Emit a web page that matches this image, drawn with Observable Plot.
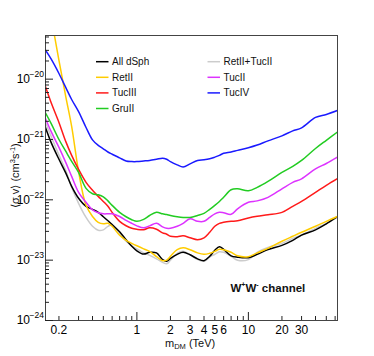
<!DOCTYPE html>
<html><head><meta charset="utf-8">
<script src="https://cdn.jsdelivr.net/npm/d3@7"></script>
<script src="https://cdn.jsdelivr.net/npm/@observablehq/plot@0.6"></script>
<style>body{margin:0;background:#fff}#chart{width:374px;height:356px}</style>
</head><body><div id="chart"></div>
<script>
// DM mass grid (TeV)
const mass = [0.15,0.17,0.2,0.23,0.26,0.3,0.35,0.4,0.45,0.5,0.55,0.6,0.7,0.8,0.9,1.0,1.15,1.3,1.5,1.7,1.85,2.0,2.3,2.6,3.0,3.5,4,4.5,5,5.5,6,7,8,10,12,15,20,25,30,40,50,63];
// <σv> upper limits (cm^3 s^-1)
const allDSph = [1.65e-21,8.95e-22,4.7e-22,2.8e-22,1.67e-22,1.06e-22,7.8e-23,6.96e-23,6.2e-23,5.24e-23,4.5e-23,3.9e-23,2.95e-23,2.18e-23,1.7e-23,1.43e-23,1.26e-23,1.35e-23,1.32e-23,1.02e-23,9.6e-24,1.07e-23,1.25e-23,1.35e-23,1.23e-23,1.05e-23,9.8e-24,1.16e-23,1.46e-23,1.67e-23,1.51e-23,1.18e-23,1.12e-23,1.1e-23,1.25e-23,1.5e-23,1.76e-23,2.13e-23,2.6e-23,3.18e-23,4.0e-23,5.27e-23];
const retII = [null,1.1e-19,2.04e-20,5.2e-21,1.65e-21,2.96e-22,8.1e-23,5.3e-23,4.24e-23,4.0e-23,4.1e-23,3.64e-23,2.58e-23,2.13e-23,1.9e-23,1.73e-23,1.54e-23,1.4e-23,1.14e-23,9.8e-24,1.0e-23,1.16e-23,1.49e-23,1.6e-23,1.49e-23,1.32e-23,1.25e-23,1.3e-23,1.4e-23,1.51e-23,1.49e-23,1.35e-23,1.18e-23,1.14e-23,1.32e-23,1.57e-23,2.06e-23,2.49e-23,2.9e-23,3.64e-23,4.4e-23,5.3e-23];
const tucIII = [7.9e-21,4.1e-21,1.92e-21,9.3e-22,5.46e-22,3.2e-22,1.95e-22,1.44e-22,1.14e-22,9.4e-23,7.8e-23,6.2e-23,4.4e-23,3.72e-23,3.37e-23,3.25e-23,3.2e-23,3.43e-23,3.25e-23,2.84e-23,2.69e-23,2.49e-23,2.45e-23,2.53e-23,2.35e-23,2.18e-23,2.35e-23,2.9e-23,3.64e-23,4.08e-23,4.24e-23,4.4e-23,4.49e-23,5.0e-23,5.33e-23,5.65e-23,6.2e-23,7.8e-23,9.4e-23,1.33e-22,1.74e-22,2.25e-22];
const gruII = [2.85e-21,1.85e-21,1.0e-21,6.4e-22,4.34e-22,2.85e-22,1.55e-22,1.26e-22,1.21e-22,1.12e-22,9.6e-23,8.1e-23,6.2e-23,5.24e-23,4.67e-23,4.4e-23,4.75e-23,5.5e-23,6.2e-23,5.86e-23,5.7e-23,5.5e-23,5.24e-23,5.1e-23,5.1e-23,5.5e-23,5.97e-23,6.97e-23,8.1e-23,9.4e-23,1.1e-22,1.47e-22,1.52e-22,1.41e-22,1.61e-22,2.02e-22,2.85e-22,3.59e-22,4.5e-22,7.1e-22,9.7e-22,1.33e-21];
const retIITucII = [2.0e-21,1.13e-21,5.5e-22,3.08e-22,1.61e-22,8.75e-23,5.1e-23,3.64e-23,3.13e-23,3.18e-23,3.64e-23,3.8e-23,2.74e-23,2.06e-23,1.73e-23,1.54e-23,1.32e-23,1.2e-23,1.05e-23,9.2e-24,8.7e-24,9.95e-24,1.3e-23,1.4e-23,1.23e-23,1.03e-23,9.6e-24,1.12e-23,1.25e-23,1.38e-23,1.35e-23,1.16e-23,9.95e-24,1.02e-23,1.35e-23,1.63e-23,1.9e-23,2.3e-23,2.63e-23,3.37e-23,4.08e-23,5.1e-23];
const tucII = [2.32e-21,1.36e-21,7.4e-22,4.18e-22,2.45e-22,1.33e-22,9.1e-23,6.8e-23,6.1e-23,5.86e-23,5.86e-23,5.86e-23,5.3e-23,4.58e-23,4.08e-23,3.7e-23,3.43e-23,3.7e-23,4.08e-23,3.57e-23,3.37e-23,3.37e-23,3.64e-23,4.08e-23,4.85e-23,4.4e-23,4.4e-23,5.13e-23,5.86e-23,6.2e-23,6.1e-23,5.75e-23,7.1e-23,9.1e-23,9.6e-23,1.1e-22,1.52e-22,1.95e-22,2.23e-22,3.26e-22,4.0e-22,5.1e-22];
const tucIV = [3.1e-20,2.16e-20,1.24e-20,7.3e-21,4.6e-21,2.9e-21,1.58e-21,9.85e-22,8.0e-22,7.0e-22,6.2e-22,5.7e-22,4.96e-22,4.4e-22,4.3e-22,4.3e-22,4.4e-22,4.5e-22,4.7e-22,4.9e-22,4.7e-22,4.3e-22,3.8e-22,3.5e-22,3.95e-22,4.5e-22,4.6e-22,4.78e-22,5.1e-22,5.46e-22,5.9e-22,6.2e-22,6.6e-22,7.3e-22,8.1e-22,9.5e-22,1.15e-21,1.39e-21,1.56e-21,2.32e-21,2.6e-21,3.03e-21];

const seriesNames = ["All dSph","RetII","TucIII","GruII","RetII+TucII","TucII","TucIV"];
const seriesValues = [allDSph, retII, tucIII, gruII, retIITucII, tucII, tucIV];
const seriesColors = ["#000000","#ffcc00","#ff1a1a","#22cc22","#cccccc","#dd33ff","#1a1aff"];
const drawOrder = [4,0,1,2,3,5,6];

const xTickLabels = [0.2,1,2,3,4,5,6,10,20,30];
const xMajorTicks = [1,10];
const yMajorTicks = [1e-24,1e-23,1e-22,1e-21,1e-20];

const xMinorTicks = [];
for (const dec of [0.1,1,10]) for (let k=2;k<=9;k++){const v=+(k*dec).toFixed(3); if(v>0.1515&&v<63) xMinorTicks.push(v);}
const yMinorTicks = [];
for (const e of [-24,-23,-22,-21,-20]) for (let k=2;k<=9;k++){const v=k*Math.pow(10,e); if(v<5.29e-20) yMinorTicks.push(v);}

const font = "'Liberation Sans', Arial, Helvetica, sans-serif";
const W = 374, H = 356, mL = 45, mR = 37, mT = 35, mB = 36;
const innerW = W - mL - mR, innerH = H - mT - mB;

const lineMarks = drawOrder.map(i => Plot.line(
  mass.map((m, j) => ({x: m, y: seriesValues[i][j]})).filter(d => d.y != null),
  {x: "x", y: "y", stroke: seriesColors[i], strokeWidth: 1.5, curve: "catmull-rom", clip: true}
));

const plot = Plot.plot({
  width: W, height: H,
  marginLeft: mL, marginRight: mR, marginTop: mT, marginBottom: mB,
  style: {fontFamily: font, fontSize: "12px", background: "white", color: "black"},
  x: {type: "log", domain: [0.1515, 63], axis: null},
  y: {type: "log", domain: [1e-24, 5.29e-20], axis: null},
  marks: [
    ...lineMarks,
    Plot.frame({stroke: "#444", strokeWidth: 1}),
    Plot.tickX(xMajorTicks, {x: d => d, insetTop: innerH - 8, stroke: "#222"}),
    Plot.tickX(xMinorTicks, {x: d => d, insetTop: innerH - 4, stroke: "#222"}),
    Plot.tickY(yMajorTicks, {y: d => d, insetRight: innerW - 8, stroke: "#222"}),
    Plot.tickY(yMinorTicks, {y: d => d, insetRight: innerW - 4, stroke: "#222"}),
    Plot.text(xTickLabels, {x: d => d, frameAnchor: "bottom", text: d => String(d), dy: 10, fontSize: 12, lineAnchor: "middle"}),
    Plot.text(yMajorTicks, {y: d => d, frameAnchor: "left", text: () => "10", textAnchor: "end", dx: -15.5, fontSize: 12}),
    Plot.text(yMajorTicks, {y: d => d, frameAnchor: "left", text: d => "\u2212" + Math.round(-Math.log10(d)), textAnchor: "end", dx: -1.5, dy: -5, fontSize: 8.5})
  ]
});
document.getElementById("chart").appendChild(plot);

const svg = d3.select(plot);
// legend
const leg = svg.append("g").attr("font-family", font).attr("font-size", 10).attr("text-anchor", "start");
seriesNames.forEach((name, i) => {
  const col = i < 4 ? 0 : 1, row = i < 4 ? i : i - 4;
  const x0 = col ? 207.5 : 96, y0 = 61.7 + row * 15.6;
  leg.append("line").attr("x1", x0).attr("x2", x0 + 12.5).attr("y1", y0).attr("y2", y0)
    .attr("stroke", seriesColors[i]).attr("stroke-width", 1.5);
  leg.append("text").attr("x", x0 + 16).attr("y", y0).attr("dy", "0.35em").attr("fill", "#111").text(name);
});

// channel label
const ch = svg.append("text").attr("x", 230.5).attr("y", 291.5).attr("font-family", font).attr("text-anchor", "start")
  .attr("font-weight", "bold").attr("font-size", 11.5).attr("fill", "#111");
ch.append("tspan").text("W");
ch.append("tspan").attr("font-size", 7).attr("dy", -5).text("+");
ch.append("tspan").attr("dy", 5).text("W");
ch.append("tspan").attr("font-size", 7).attr("dy", -5).text("-");
ch.append("tspan").attr("dy", 5).text(" channel");

// x axis title
const xt = svg.append("text").attr("x", 165).attr("y", 346.5).attr("font-family", font).attr("text-anchor", "start")
  .attr("font-size", 11).attr("fill", "#111");
xt.append("tspan").text("m");
xt.append("tspan").attr("font-size", 7.5).attr("dy", 2.5).text("DM");
xt.append("tspan").attr("dy", -2.5).text(" (TeV)");

// y axis title
const yt = svg.append("text").attr("transform", "translate(19,208) rotate(-90)").attr("font-family", font)
  .attr("text-anchor", "start").attr("font-size", 11).attr("fill", "#111");
yt.append("tspan").text("\u27e8\u03c3 v\u27e9 (cm");
yt.append("tspan").attr("font-size", 7.5).attr("dy", -4.5).text("3");
yt.append("tspan").attr("dy", 4.5).text("s");
yt.append("tspan").attr("font-size", 7.5).attr("dy", -4.5).text("-1");
yt.append("tspan").attr("dy", 4.5).text(")");
</script>
</body></html>
